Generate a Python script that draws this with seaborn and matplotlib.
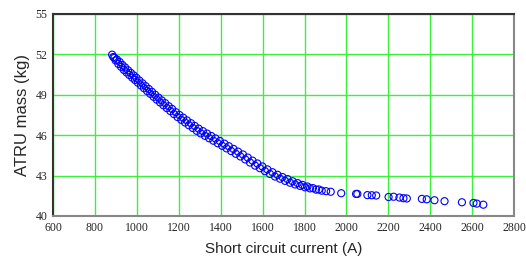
import numpy as np
import pandas as pd
import seaborn as sns
import matplotlib.pyplot as plt

# Short circuit current (A) vs ATRU mass (kg)
current = [882, 888, 893, 899, 905, 912, 918, 925, 931, 938, 944, 951, 958, 964, 971,
           978, 985, 991, 998, 1005, 1012, 1020, 1027, 1034, 1042, 1049, 1057, 1064, 1072,
           1080, 1087, 1095, 1103, 1111, 1119, 1127, 1135, 1143, 1152, 1160, 1168, 1177,
           1186, 1194, 1203, 1212, 1221, 1230, 1239, 1248, 1258, 1267, 1276, 1286, 1295,
           1305, 1315, 1325, 1335, 1345, 1355, 1365, 1375, 1386, 1396, 1407, 1418, 1428,
           1439, 1450, 1461, 1472, 1483, 1494, 1506, 1517, 1529, 1540, 1552, 1564, 1575,
           1587, 1599, 1611, 1623, 1635, 1647, 1659, 1671, 1683, 1695, 1707, 1719, 1731,
           1743, 1755, 1767, 1779, 1790, 1802, 1814, 1826, 1840, 1855, 1868, 1882, 1903,
           1925, 1975, 2046, 2052, 2100, 2121, 2142, 2201, 2225, 2253, 2272, 2288, 2360,
           2383, 2420, 2468, 2551, 2606, 2622, 2653]
mass = [51.98, 51.80, 51.75, 51.55, 51.62, 51.28, 51.44, 51.07, 51.22, 50.85, 51.03, 50.66,
        50.82, 50.47, 50.63, 50.27, 50.44, 50.10, 50.26, 49.90, 50.06, 49.69, 49.85, 49.49,
        49.64, 49.28, 49.43, 49.07, 49.22, 48.85, 49.01, 48.64, 48.79, 48.43, 48.58, 48.22,
        48.38, 48.01, 48.15, 47.79, 47.95, 47.57, 47.71, 47.35, 47.50, 47.14, 47.30, 46.94,
        47.10, 46.74, 46.89, 46.53, 46.69, 46.32, 46.49, 46.13, 46.30, 45.95, 46.12, 45.77,
        45.94, 45.59, 45.76, 45.40, 45.57, 45.21, 45.37, 45.02, 45.18, 44.82, 44.98, 44.62,
        44.78, 44.42, 44.57, 44.20, 44.34, 43.97, 44.11, 43.74, 43.90, 43.55, 43.68, 43.33,
        43.46, 43.12, 43.25, 42.93, 43.06, 42.77, 42.89, 42.61, 42.74, 42.47, 42.58, 42.34,
        42.44, 42.23, 42.31, 42.13, 42.19, 42.05, 42.07, 41.96, 41.97, 41.88, 41.84, 41.80,
        41.69, 41.64, 41.64, 41.55, 41.54, 41.52, 41.41, 41.43, 41.37, 41.32, 41.30, 41.27,
        41.24, 41.17, 41.10, 41.02, 40.97, 40.92, 40.84]

x_ticks = [600, 800, 1000, 1200, 1400, 1600, 1800, 2000, 2200, 2400, 2600, 2800]
y_ticks = [40, 43, 46, 49, 52, 55]

df = pd.DataFrame({"current": current, "mass": mass})

sns.set_style("white")
fig = plt.figure(figsize=(5.26, 2.62), dpi=100)
ax = fig.add_axes([0.1008, 0.1756, 0.8766, 0.771])

sns.scatterplot(data=df, x="current", y="mass", ax=ax, marker="o", s=26,
                facecolors="none", edgecolor="#0000ff", linewidth=0.8, zorder=3)

ax.set_xlim(600, 2800)
ax.set_ylim(40, 55)
ax.set_xticks(x_ticks)
ax.set_yticks(y_ticks)
ax.grid(True, color="#3cf03c", linewidth=1.0)
ax.set_axisbelow(True)
ax.tick_params(length=0, pad=4)
for lab in ax.get_xticklabels() + ax.get_yticklabels():
    lab.set_fontfamily("Liberation Serif")
    lab.set_fontsize(8.5)

ax.spines["top"].set_color("#333333")
ax.spines["left"].set_color("#333333")
ax.spines["bottom"].set_color("#888888")
ax.spines["right"].set_color("#888888")
for sp in ax.spines.values():
    sp.set_linewidth(1.5)

ax.set_xlabel("Short circuit current (A)", fontfamily="Liberation Sans", fontsize=11, labelpad=6)
ax.set_ylabel("ATRU mass (kg)", fontfamily="Liberation Sans", fontsize=12, labelpad=4)

plt.savefig("out.png", dpi=100)
plt.close()
